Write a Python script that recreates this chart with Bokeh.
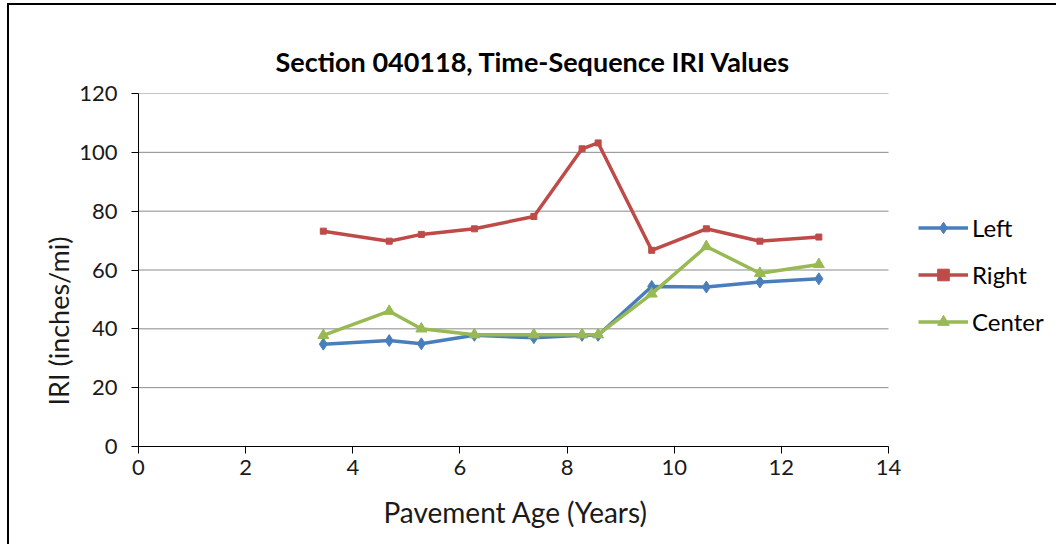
from bokeh.plotting import figure
from bokeh.models import Legend, LegendItem, FixedTicker, Range1d, Title
from bokeh.embed import file_html
from bokeh.resources import INLINE

# ---- data ----
age = [3.45, 4.68, 5.28, 6.27, 7.38, 8.28, 8.58, 9.58, 10.60, 11.60, 12.70]
left = [34.8, 36.0, 34.9, 37.8, 37.0, 37.8, 37.8, 54.4, 54.2, 55.9, 57.0]
right = [73.2, 69.8, 72.1, 74.0, 78.2, 101.2, 103.2, 66.7, 74.0, 69.8, 71.2]
center = [37.8, 46.0, 40.0, 38.0, 38.0, 38.0, 38.0, 51.9, 68.0, 58.9, 61.9]
x_ticks = [0, 2, 4, 6, 8, 10, 12, 14]
y_ticks = [0, 20, 40, 60, 80, 100, 120]
title_text = "Section 040118, Time-Sequence IRI Values"
x_label = "Pavement Age (Years)"
y_label = "IRI (inches/mi)"

FONT = "Lato"
BLUE = "#4A7EBB"
RED = "#BE4B48"
GREEN = "#98B954"

# layout: the plot frame is extended to the right edge so that the legend
# (drawn inside the frame) can sit to the right of the 0..14 axis span
W, H = 1049, 541
ML, MT, MB = 129, 88, 100
AXIS_PX = 750                      # pixel length of the 0..14 axis
frame_w = W - ML
x_max = x_ticks[-1] * frame_w / AXIS_PX

p = figure(width=W, height=H, output_backend="svg", toolbar_location=None,
           x_range=Range1d(0, x_max), y_range=Range1d(y_ticks[0], y_ticks[-1]),
           min_border_left=ML, min_border_right=0,
           min_border_top=MT, min_border_bottom=MB)
p.styles = {"border-left": "2px solid #000000", "border-top": "2px solid #000000",
            "margin-left": "7px", "margin-top": "3px"}
p.outline_line_color = None
p.background_fill_color = "white"
p.border_fill_color = "white"

t = Title(text=title_text, align="left", text_font=FONT, text_font_size="27px",
          text_font_style="bold", text_color="#000000", offset=137, standoff=32)
p.add_layout(t, "above")

for ax, ticks in ((p.xaxis, x_ticks), (p.yaxis, y_ticks)):
    ax.ticker = FixedTicker(ticks=ticks)
    ax.minor_tick_line_color = None
    ax.major_tick_in = 0
    ax.major_tick_out = 7
    ax.axis_line_color = "#000000"
    ax.major_tick_line_color = "#000000"
    ax.major_label_text_font = FONT
    ax.major_label_text_font_size = "22px"
    ax.major_label_text_color = "#1a1a1a"

p.xaxis.bounds = (x_ticks[0], x_ticks[-1])
p.xaxis.major_label_standoff = 6
p.yaxis.major_label_standoff = 14

# axis titles as side titles so they can be placed like the reference
xt = Title(text=x_label, align="left", text_font=FONT, text_font_size="28px",
           text_font_style="normal", text_color="#1a1a1a", offset=245, standoff=31)
p.add_layout(xt, "below")
yt = Title(text=y_label, align="left", text_font=FONT, text_font_size="27px",
           text_font_style="normal", text_color="#1a1a1a", offset=41, standoff=4)
p.add_layout(yt, "left")

p.xgrid.grid_line_color = None
p.ygrid.grid_line_color = None
# horizontal gridlines limited to the 0..14 span
gy = y_ticks[1:]
p.segment(x0=[x_ticks[0]] * len(gy), x1=[x_ticks[-1]] * len(gy), y0=gy, y1=gy,
          line_color="#8a8a8a", line_width=1, level="underlay")

items = []
series = [("Left", left, BLUE, "diamond", 12),
          ("Right", right, RED, "square", 6),
          ("Center", center, GREEN, "triangle", 11)]
for name, vals, col, marker, size in series:
    ln = p.line(age, vals, line_color=col, line_width=3.5)
    sc = p.scatter(age, vals, marker=marker, size=size, fill_color=col, line_color=col)
    items.append(LegendItem(label=name, renderers=[ln, sc]))

legend = Legend(items=items, location=(780, 110), orientation="vertical",
                label_text_font=FONT, label_text_font_size="24px", label_text_color="#000000",
                glyph_width=50, glyph_height=29, label_height=29, spacing=18,
                label_standoff=4, padding=0, margin=0,
                border_line_color=None, background_fill_alpha=0)
p.add_layout(legend, "center")

open("out.html", "w").write(file_html(p, INLINE))
